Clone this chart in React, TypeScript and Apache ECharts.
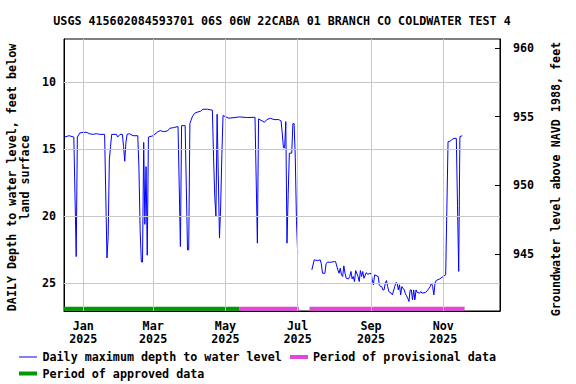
import React, { useEffect, useRef } from 'react';
import * as echarts from 'echarts';

const FONT_FAMILY = '"DejaVu Sans Mono", "Liberation Mono", monospace';
const FONT_SIZE = 11.7;

const titleText = 'USGS 415602084593701 06S 06W 22CABA 01 BRANCH CO COLDWATER TEST 4';
const leftAxisTitle = 'DAILY Depth to water level, feet below\nland surface';
const rightAxisTitle = 'Groundwater level above NAVD 1988, feet';
const legendDepth = 'Daily maximum depth to water level';
const legendProvisional = 'Period of provisional data';
const legendApproved = 'Period of approved data';

const xMin = '2024-12-15 17:00:00';
const xMax = '2025-12-18 21:00:00';
const depthMin = 6.8;
const depthMax = 27.05;
const elevMin = 940.85;
const elevMax = 960.65;

const monthTicks = ['2025-01-01', '2025-03-01', '2025-05-01', '2025-07-01', '2025-09-01', '2025-11-01'];
const monthLabels = ['Jan\n2025', 'Mar\n2025', 'May\n2025', 'Jul\n2025', 'Sep\n2025', 'Nov\n2025'];
const depthGridTicks = [10, 15, 20, 25];

const approvedPeriods: [string, string][] = [['2024-12-15 17:00:00', '2025-05-13']];
const provisionalPeriods: [string, string][] = [
  ['2025-05-13', '2025-07-02'],
  ['2025-07-11', '2025-11-19'],
];
const periodBarDepth = 26.88;

const depthSegment1: [string, number][] = [
  ['2024-12-16', 14.1], ['2024-12-20', 14.0], ['2024-12-24', 14.1], ['2024-12-25', 18.5],
  ['2024-12-26', 23.0], ['2024-12-27', 14.1], ['2024-12-29', 13.8], ['2025-01-01', 13.75],
  ['2025-01-04', 13.75], ['2025-01-06', 13.85], ['2025-01-09', 13.9], ['2025-01-12', 13.85],
  ['2025-01-15', 13.9], ['2025-01-19', 13.9], ['2025-01-20', 18.5], ['2025-01-21', 23.1],
  ['2025-01-22', 21.5], ['2025-01-23', 15.8], ['2025-01-24', 14.8], ['2025-01-25', 13.9],
  ['2025-01-29', 13.9], ['2025-01-30', 14.1], ['2025-02-01', 13.9], ['2025-02-03', 13.9],
  ['2025-02-04', 14.8], ['2025-02-05', 15.9], ['2025-02-06', 14.5], ['2025-02-07', 13.9],
  ['2025-02-09', 13.85], ['2025-02-12', 14.0], ['2025-02-16', 14.0], ['2025-02-17', 16.4],
  ['2025-02-18', 21.0], ['2025-02-19', 23.4], ['2025-02-20', 23.4], ['2025-02-21', 14.5],
  ['2025-02-22', 20.6], ['2025-02-23', 16.3], ['2025-02-24', 22.9], ['2025-02-25', 14.1],
  ['2025-03-01', 14.0], ['2025-03-05', 13.7], ['2025-03-07', 13.62], ['2025-03-10', 13.7],
  ['2025-03-13', 13.65], ['2025-03-15', 13.45], ['2025-03-18', 13.4], ['2025-03-22', 13.32],
  ['2025-03-23', 17.7], ['2025-03-24', 22.25], ['2025-03-25', 13.25], ['2025-03-28', 13.25],
  ['2025-03-29', 17.8], ['2025-03-30', 22.5], ['2025-03-31', 22.5], ['2025-04-01', 13.1],
  ['2025-04-02', 12.85], ['2025-04-03', 12.6], ['2025-04-05', 12.33], ['2025-04-07', 12.25],
  ['2025-04-10', 12.18], ['2025-04-12', 12.03], ['2025-04-16', 12.03], ['2025-04-20', 12.1],
  ['2025-04-21', 15.6], ['2025-04-22', 18.5], ['2025-04-23', 20.0], ['2025-04-24', 12.4],
  ['2025-04-25', 17.0], ['2025-04-26', 21.6], ['2025-04-27', 19.3], ['2025-04-28', 15.4],
  ['2025-04-29', 12.5], ['2025-05-04', 12.7], ['2025-05-13', 12.6], ['2025-05-19', 12.65],
  ['2025-05-26', 12.63], ['2025-05-27', 17.3], ['2025-05-28', 22.0], ['2025-05-29', 12.75],
  ['2025-06-03', 13.0], ['2025-06-05', 12.8], ['2025-06-08', 12.7], ['2025-06-11', 12.8],
  ['2025-06-15', 12.8], ['2025-06-17', 12.9], ['2025-06-18', 13.8], ['2025-06-19', 14.9],
  ['2025-06-20', 14.9], ['2025-06-21', 12.95], ['2025-06-22', 22.0], ['2025-06-23', 18.4],
  ['2025-06-24', 15.3], ['2025-06-26', 15.3], ['2025-06-27', 13.1], ['2025-06-28', 13.1],
  ['2025-06-29', 15.6], ['2025-06-30', 20.3], ['2025-07-01', 22.7],
];

const depthSegment2: [string, number][] = [
  ['2025-07-13', 23.99], ['2025-07-15', 23.24], ['2025-07-18', 23.3], ['2025-07-20', 23.24],
  ['2025-07-21', 23.54], ['2025-07-22', 24.24], ['2025-07-24', 24.24], ['2025-07-25', 23.54],
  ['2025-07-26', 23.42], ['2025-07-29', 23.42], ['2025-08-01', 23.37], ['2025-08-02', 23.37],
  ['2025-08-04', 24.0], ['2025-08-05', 24.24], ['2025-08-06', 23.86], ['2025-08-07', 24.36],
  ['2025-08-08', 24.48], ['2025-08-09', 23.69], ['2025-08-10', 24.24], ['2025-08-11', 24.61],
  ['2025-08-13', 24.66], ['2025-08-14', 24.48], ['2025-08-15', 24.11], ['2025-08-16', 24.66],
  ['2025-08-17', 24.48], ['2025-08-18', 24.86], ['2025-08-19', 24.04], ['2025-08-21', 24.48],
  ['2025-08-22', 24.86], ['2025-08-23', 24.04], ['2025-08-24', 24.48], ['2025-08-25', 24.11],
  ['2025-08-26', 24.61], ['2025-08-28', 24.19], ['2025-08-29', 24.31], ['2025-09-01', 24.24],
  ['2025-09-02', 24.73], ['2025-09-03', 25.1], ['2025-09-04', 24.36], ['2025-09-07', 24.48],
  ['2025-09-08', 25.1], ['2025-09-09', 25.23], ['2025-09-10', 25.23], ['2025-09-11', 25.48],
  ['2025-09-12', 25.48], ['2025-09-13', 24.98], ['2025-09-14', 24.78], ['2025-09-15', 25.23],
  ['2025-09-16', 25.6], ['2025-09-17', 25.67], ['2025-09-18', 25.72], ['2025-09-19', 25.85],
  ['2025-09-21', 25.23], ['2025-09-22', 24.93], ['2025-09-23', 24.98], ['2025-09-24', 25.48],
  ['2025-09-25', 25.1], ['2025-09-26', 25.85], ['2025-09-27', 25.23], ['2025-09-29', 25.48],
  ['2025-09-30', 25.77], ['2025-10-01', 25.92], ['2025-10-02', 26.1], ['2025-10-03', 26.34],
  ['2025-10-04', 25.48], ['2025-10-05', 25.48], ['2025-10-06', 26.22], ['2025-10-07', 25.48],
  ['2025-10-08', 26.22], ['2025-10-09', 25.48], ['2025-10-10', 25.67], ['2025-10-12', 25.72],
  ['2025-10-13', 25.6], ['2025-10-14', 25.72], ['2025-10-17', 25.67], ['2025-10-19', 25.48],
  ['2025-10-20', 25.35], ['2025-10-21', 25.23], ['2025-10-22', 24.98], ['2025-10-23', 25.23],
  ['2025-10-24', 25.85], ['2025-10-25', 24.98], ['2025-10-26', 24.78], ['2025-10-29', 24.66],
  ['2025-10-31', 24.53], ['2025-11-03', 24.36], ['2025-11-04', 19.5], ['2025-11-05', 14.45],
  ['2025-11-07', 14.4], ['2025-11-08', 14.3], ['2025-11-10', 14.2], ['2025-11-12', 14.2],
  ['2025-11-13', 19.2], ['2025-11-14', 24.1], ['2025-11-15', 14.07], ['2025-11-17', 14.0],
];

const textStyleBase = {
  fontFamily: FONT_FAMILY,
  fontWeight: 'bold' as const,
  fontSize: FONT_SIZE,
  color: '#000',
};

function periodData(periods: [string, string][]) {
  const out: any[] = [];
  periods.forEach((p, i) => {
    if (i > 0) out.push([p[0], null]);
    out.push([p[0], periodBarDepth]);
    out.push([p[1], periodBarDepth]);
  });
  return out;
}

function gText(text: string, x: number, y: number, extra: any = {}) {
  return {
    type: 'text',
    x,
    y,
    silent: true,
    ...extra,
    style: {
      text,
      fill: '#000',
      font: `bold ${FONT_SIZE}px ${FONT_FAMILY}`,
      fontFamily: FONT_FAMILY,
      fontWeight: 'bold',
      fontSize: FONT_SIZE,
      align: extra.align || 'left',
      textAlign: extra.align || 'left',
      verticalAlign: 'middle',
      textVerticalAlign: 'middle',
      lineHeight: extra.lineHeight || 14,
    },
  };
}

export default function App() {
  const ref = useRef<HTMLDivElement>(null);

  useEffect(() => {
    document.body.style.margin = '0';
    const chart = echarts.init(ref.current!, null, { renderer: 'svg' });

    const verticalGrid = monthTicks.map((d, i) => [
      {
        coord: [d, depthMax],
        label: {
          show: true,
          position: 'start',
          distance: 8,
          formatter: monthLabels[i],
          ...textStyleBase,
          lineHeight: 13.5,
          align: 'center',
        },
      },
      { coord: [d, depthMin] },
    ]);
    const horizontalGrid = depthGridTicks.map((v) => [
      { coord: [xMin, v], label: { show: false } },
      { coord: [xMax, v] },
    ]);

    const depthData: any[] = [...depthSegment1, ['2025-07-07', null], ...depthSegment2];

    const axisLineStyle = { show: true, lineStyle: { color: '#000', width: 1 } };

    chart.setOption({
      animation: false,
      grid: {
        left: 64,
        right: 76,
        top: 39,
        bottom: 73,
        show: true,
        borderColor: '#000',
        borderWidth: 1,
        backgroundColor: 'transparent',
      },
      xAxis: {
        type: 'time',
        min: xMin,
        max: xMax,
        axisLine: axisLineStyle,
        axisTick: { show: false },
        axisLabel: { show: false },
        splitLine: { show: false },
      },
      yAxis: [
        {
          type: 'value',
          inverse: true,
          min: depthMin,
          max: depthMax,
          splitNumber: 4,
          position: 'left',
          axisLine: axisLineStyle,
          axisTick: { show: true, inside: true, length: 5, lineStyle: { color: '#000' } },
          axisLabel: { ...textStyleBase, margin: 8, showMinLabel: false, showMaxLabel: false },
          splitLine: { show: false },
        },
        {
          type: 'value',
          min: elevMin,
          max: elevMax,
          splitNumber: 4,
          position: 'right',
          axisLine: axisLineStyle,
          axisTick: { show: true, inside: true, length: 5, lineStyle: { color: '#000' } },
          axisLabel: { ...textStyleBase, margin: 13, showMinLabel: false, showMaxLabel: false },
          splitLine: { show: false },
        },
      ],
      series: [
        {
          name: 'grid',
          type: 'line',
          data: [],
          z: 1,
          clip: false,
          silent: true,
          markLine: {
            silent: true,
            animation: false,
            symbol: ['none', 'none'],
            lineStyle: { color: '#c8c8c8', width: 1, type: 'solid' },
            label: { show: false },
            emphasis: { disabled: true },
            data: [...verticalGrid, ...horizontalGrid],
          },
        },
        {
          name: legendApproved,
          type: 'line',
          data: periodData(approvedPeriods),
          showSymbol: false,
          silent: true,
          z: 2,
          lineStyle: { color: '#009900', width: 4, cap: 'butt' },
        },
        {
          name: legendProvisional,
          type: 'line',
          data: periodData(provisionalPeriods),
          showSymbol: false,
          silent: true,
          z: 2,
          connectNulls: false,
          lineStyle: { color: '#e645dc', width: 4, cap: 'butt' },
        },
        {
          name: legendDepth,
          type: 'line',
          data: depthData,
          showSymbol: false,
          silent: true,
          z: 3,
          connectNulls: false,
          lineStyle: { color: '#0000ff', width: 1 },
        },
      ],
      graphic: [
        gText(titleText, 282, 20.5, { align: 'center' }),
        gText(leftAxisTitle, 18.3, 177.5, { align: 'center', rotation: Math.PI / 2, lineHeight: 13.3 }),
        gText(rightAxisTitle, 556, 179, { align: 'center', rotation: Math.PI / 2 }),
        {
          type: 'line',
          silent: true,
          shape: { x1: 19, y1: 357, x2: 37, y2: 357 },
          style: { stroke: '#0000ff', lineWidth: 1 },
        },
        gText(legendDepth, 42.5, 357),
        {
          type: 'rect',
          silent: true,
          shape: { x: 290, y: 355, width: 18, height: 4 },
          style: { fill: '#e645dc' },
        },
        gText(legendProvisional, 313, 357),
        {
          type: 'rect',
          silent: true,
          shape: { x: 19, y: 371.5, width: 18, height: 4 },
          style: { fill: '#009900' },
        },
        gText(legendApproved, 42.5, 373.5),
      ],
    });

    return () => chart.dispose();
  }, []);

  return <div ref={ref} style={{ width: 576, height: 384 }} />;
}
